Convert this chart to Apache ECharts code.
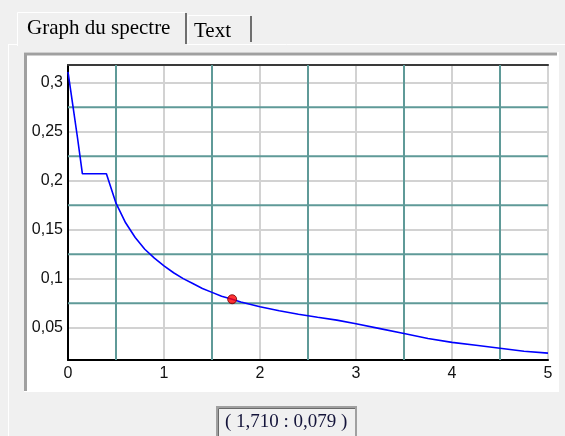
<!DOCTYPE html>
<html><head><meta charset="utf-8">
<script src="https://cdn.jsdelivr.net/npm/echarts@6/dist/echarts.min.js"></script>
<style>html,body{margin:0;padding:0;background:#f0f0f0;}#c{width:565px;height:436px;}</style>
</head><body><div id="c"></div>
<script>
// ---- data ----
const periods  = [0, 0.05, 0.10, 0.15, 0.40, 0.5, 0.6, 0.7, 0.8, 0.9, 1.0, 1.1, 1.2, 1.3, 1.4, 1.5, 1.6, 1.71, 1.8, 2.0, 2.2, 2.4, 2.6, 2.8, 3.0, 3.25, 3.5, 3.75, 4.0, 4.25, 4.5, 4.75, 5.0];
const spectrum = [0.311, 0.277, 0.243, 0.207, 0.207, 0.177, 0.157, 0.142, 0.130, 0.121, 0.113, 0.106, 0.100, 0.095, 0.090, 0.086, 0.082, 0.079, 0.0762, 0.0714, 0.0672, 0.0637, 0.0606, 0.0577, 0.054, 0.049, 0.044, 0.039, 0.035, 0.032, 0.029, 0.026, 0.024];
const markerT  = [1.710];
const markerSa = [0.079];
const xTickValues = [0, 1, 2, 3, 4, 5];
const yTickValues = [0.05, 0.1, 0.15, 0.2, 0.25, 0.3];
const xMinorLines = [0.5, 1.5, 2.5, 3.5, 4.5];
const yMinorLines = [0.075, 0.125, 0.175, 0.225, 0.275];
const tabLabels = ['Graph du spectre', 'Text'];

const fmt = (v, d) => (d === undefined ? String(Math.round(v * 1000) / 1000) : v.toFixed(d)).replace('.', ',');
const readout = '( ' + fmt(markerT[0], 3) + ' : ' + fmt(markerSa[0], 3) + ' )';

const chart = echarts.init(document.getElementById('c'), null, {renderer: 'canvas'});
const Y_MIN = 0.017, Y_MAX = 0.318;

const curve = periods.map((t, i) => [t, spectrum[i]]);
const marker = markerT.map((t, i) => [t, markerSa[i]]);

const serif = '"Liberation Serif", "Times New Roman", serif';
const sans = '"Liberation Sans", Arial, sans-serif';
const TEAL = '#5f9a98';

function vLine(params, api) {
  const cs = params.coordSys;
  const p = api.coord([api.value(0), api.value(1)]);
  return {type: 'line', shape: {x1: p[0], y1: cs.y, x2: p[0], y2: cs.y + cs.height},
          style: {stroke: TEAL, lineWidth: 2}};
}
function hLine(params, api) {
  const cs = params.coordSys;
  const p = api.coord([api.value(0), api.value(1)]);
  return {type: 'line', shape: {x1: cs.x, y1: p[1], x2: cs.x + cs.width, y2: p[1]},
          style: {stroke: TEAL, lineWidth: 2}};
}

chart.setOption({
  animation: false,
  backgroundColor: '#f0f0f0',
  grid: {left: 68, top: 65, width: 480, height: 295, containLabel: false},
  xAxis: [{
    type: 'value', min: 0, max: 5, interval: 1, position: 'bottom',
    axisLine: {show: true, onZero: false, lineStyle: {color: '#000', width: 2}},
    axisTick: {show: false},
    axisLabel: {color: '#111', fontFamily: sans, fontSize: 16, margin: 6,
      formatter: v => xTickValues.includes(v) ? String(v) : ''},
    splitLine: {show: true, lineStyle: {color: '#d2d2d2', width: 2}}
  }, {
    type: 'value', min: 0, max: 5, position: 'top',
    axisLine: {show: true, onZero: false, lineStyle: {color: '#3a3a3a', width: 2}},
    axisTick: {show: false}, axisLabel: {show: false}, splitLine: {show: false}
  }],
  yAxis: [{
    type: 'value', min: Y_MIN, max: Y_MAX, splitNumber: 6, minInterval: 0.05, maxInterval: 0.05,
    position: 'left',
    axisLine: {show: true, onZero: false, lineStyle: {color: '#000', width: 2}},
    axisTick: {show: false},
    axisLabel: {color: '#111', fontFamily: sans, fontSize: 16, margin: 5,
      showMinLabel: false, showMaxLabel: false,
      formatter: v => yTickValues.some(t => Math.abs(t - v) < 1e-6) ? fmt(v) : ''},
    splitLine: {show: true, lineStyle: {color: '#d2d2d2', width: 2}}
  }, {
    type: 'value', min: Y_MIN, max: Y_MAX, position: 'right',
    axisLine: {show: true, onZero: false, lineStyle: {color: '#d4d4d4', width: 2}},
    axisTick: {show: false}, axisLabel: {show: false}, splitLine: {show: false}
  }],
  series: [{
    type: 'custom', silent: true, z: 1, clip: false,
    data: xMinorLines.map(v => [v, Y_MIN]), renderItem: vLine
  }, {
    type: 'custom', silent: true, z: 1, clip: false,
    data: yMinorLines.map(v => [0, v]), renderItem: hLine
  }, {
    type: 'line', data: curve, showSymbol: false, symbol: 'none', z: 3,
    lineStyle: {color: '#0000ff', width: 1.6}
  }, {
    type: 'scatter', data: marker, symbol: 'circle', symbolSize: 9, z: 5,
    itemStyle: {color: '#ff0000', borderColor: '#700000', borderWidth: 1}
  }],
  graphic: [
    // tab page highlight
    {type: 'line', shape: {x1: 8.5, y1: 44, x2: 8.5, y2: 436}, style: {stroke: '#ffffff', lineWidth: 1}, z: 1},
    {type: 'line', shape: {x1: 8, y1: 44.5, x2: 565, y2: 44.5}, style: {stroke: '#ffffff', lineWidth: 1}, z: 1},
    // selected tab
    {type: 'rect', shape: {x: 17, y: 12, width: 170, height: 34}, style: {fill: '#f0f0f0'}, z: 2},
    {type: 'polyline', shape: {points: [[17.5, 46], [17.5, 12.5], [185, 12.5]]}, style: {stroke: '#ffffff', lineWidth: 1, fill: null}, z: 3},
    {type: 'line', shape: {x1: 186, y1: 13, x2: 186, y2: 44}, style: {stroke: '#6f6f6f', lineWidth: 2}, z: 3},
    {type: 'text', left: 27, top: 18, style: {text: tabLabels[0], font: '21px ' + serif, fill: '#000'}, z: 4},
    // second tab
    {type: 'polyline', shape: {points: [[188, 43], [188, 15.5], [250, 15.5]]}, style: {stroke: '#ffffff', lineWidth: 1, fill: null}, z: 3},
    {type: 'line', shape: {x1: 251, y1: 16, x2: 251, y2: 42}, style: {stroke: '#6f6f6f', lineWidth: 2}, z: 3},
    {type: 'text', left: 194, top: 21, style: {text: tabLabels[1], font: '21px ' + serif, fill: '#000'}, z: 4},
    // chart panel (white, sunken border)
    {type: 'rect', shape: {x: 24, y: 52, width: 535, height: 340}, style: {fill: '#ffffff'}, z: -10},
    {type: 'polyline', shape: {points: [[25.5, 391], [25.5, 54], [557, 54]]}, style: {stroke: '#a0a0a0', lineWidth: 3, fill: null}, z: -9},
    // readout box
    {type: 'rect', shape: {x: 217, y: 407, width: 139, height: 40}, style: {fill: '#f0f0f0', stroke: '#a0a0a0', lineWidth: 2}, z: 2},
    {type: 'polyline', shape: {points: [[218.5, 436], [218.5, 408.5], [355, 408.5]]}, style: {stroke: '#6a6a6a', lineWidth: 1, fill: null}, z: 3},
    {type: 'text', left: 225, top: 413, style: {text: readout, font: '19px ' + serif, fill: '#14143a'}, z: 4}
  ]
});
</script>
</body></html>
